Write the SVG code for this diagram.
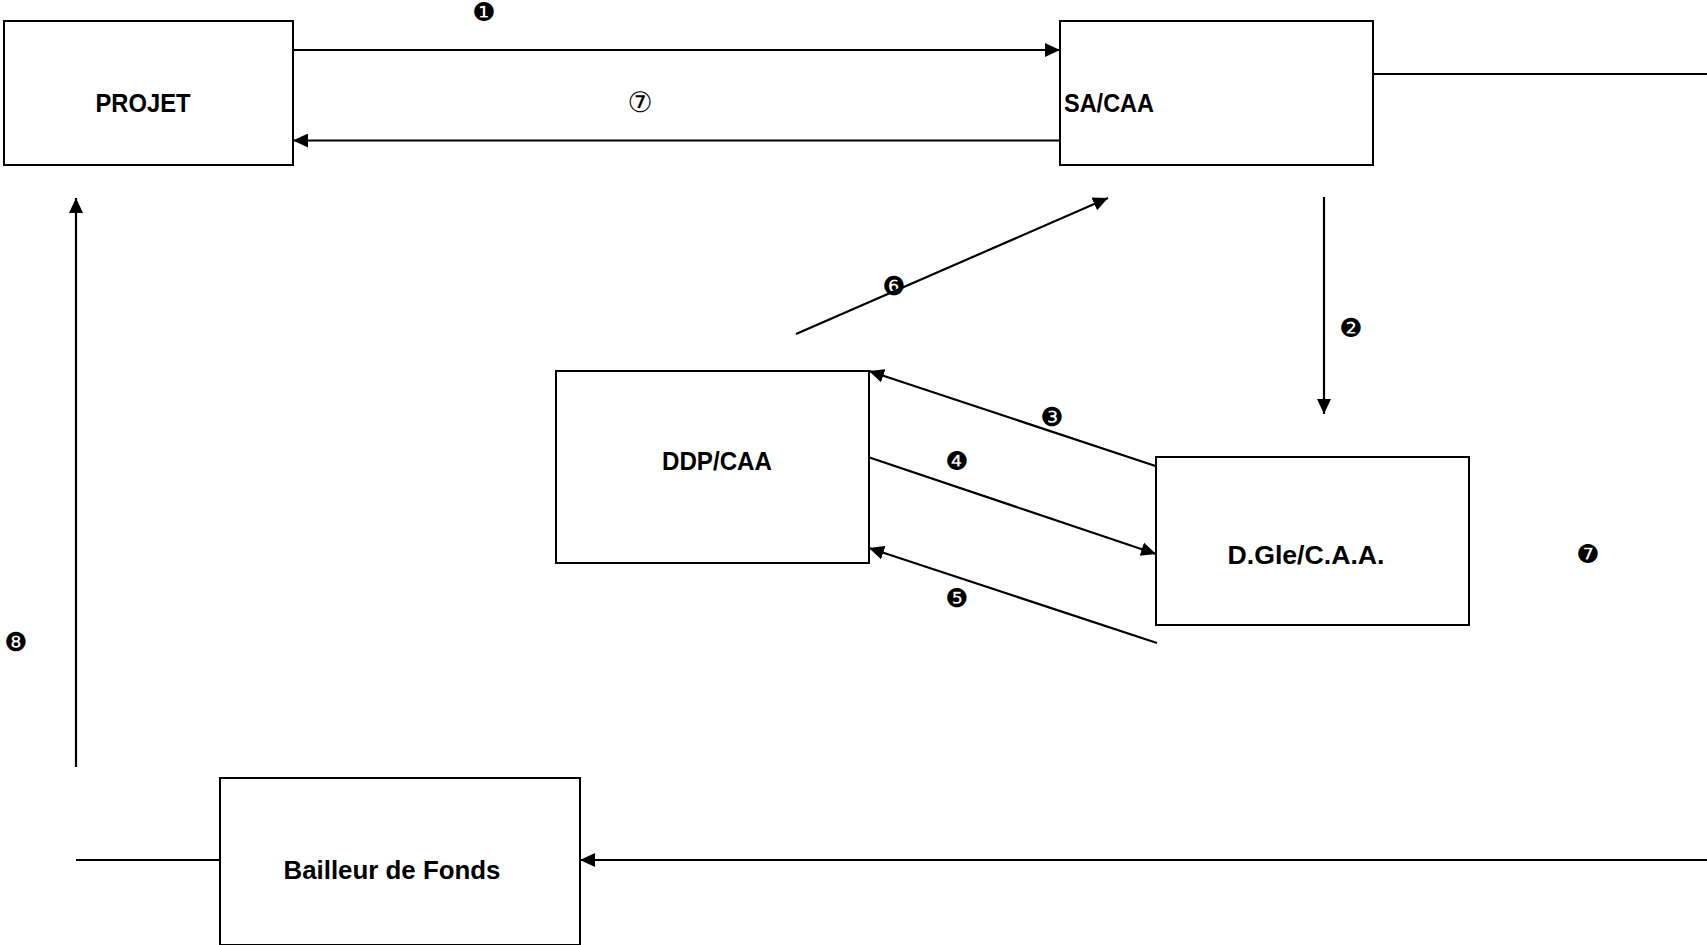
<svg xmlns="http://www.w3.org/2000/svg" width="1707" height="945" viewBox="0 0 1707 945">
<style>
.box{fill:#fff;stroke:#000;stroke-width:2}
.lbl{font-family:"Liberation Sans",Arial,sans-serif;font-weight:bold;font-size:26px;fill:#000}
.num{font-family:"DejaVu Sans","Noto Sans CJK JP",sans-serif;font-size:26px;fill:#000;text-anchor:middle;dominant-baseline:central}
.wnum{font-size:28px}
.ln{stroke:#000;stroke-width:2.2;fill:none}
.arr{marker-end:url(#ah)}
</style>
<defs>
<marker id="ah" viewBox="0 0 15 14" refX="15" refY="7" markerWidth="15" markerHeight="14" markerUnits="userSpaceOnUse" orient="auto">
<path d="M0,0 L15,7 L0,14 Z" fill="#000"/>
</marker>
</defs>
<g id="connectors">
<line class="ln arr" x1="293" y1="50" x2="1060" y2="50"/>
<line class="ln arr" x1="1060" y1="140.5" x2="293" y2="140.5"/>
<line class="ln" x1="1373" y1="74" x2="1707" y2="74"/>
<line class="ln arr" x1="1707" y1="860" x2="580" y2="860"/>
<line class="ln" x1="76" y1="860" x2="220" y2="860"/>
<line class="ln arr" x1="76" y1="767" x2="76" y2="198"/>
<line class="ln arr" x1="1324" y1="197" x2="1324" y2="414"/>
<line class="ln arr" x1="796" y1="334" x2="1108" y2="198"/>
<line class="ln arr" x1="1157" y1="466.5" x2="869" y2="371"/>
<line class="ln arr" x1="868" y1="457" x2="1156" y2="554"/>
<line class="ln arr" x1="1157" y1="643" x2="869" y2="548"/>
</g>
<g id="labels">
<text class="num" x="484" y="12">❶</text>
<text class="num wnum" x="640" y="102">⑦</text>
<text class="num" x="1351" y="328">❷</text>
<text class="num" x="1052" y="417">❸</text>
<text class="num" x="957" y="461">❹</text>
<text class="num" x="957" y="598">❺</text>
<text class="num" x="894" y="286">❻</text>
<text class="num" x="1588" y="554">❼</text>
<text class="num" x="16" y="642">❽</text>
</g>
<g id="projet">
<rect class="box" x="4" y="21" width="289" height="144"/>
<text class="lbl" x="143" y="112" text-anchor="middle" textLength="95" lengthAdjust="spacingAndGlyphs">PROJET</text>
</g>
<g id="sacaa">
<rect class="box" x="1060" y="21" width="313" height="144"/>
<text class="lbl" x="1064" y="112" textLength="90" lengthAdjust="spacingAndGlyphs">SA/CAA</text>
</g>
<g id="ddpcaa">
<rect class="box" x="556" y="371" width="313" height="192"/>
<text class="lbl" x="717" y="470" text-anchor="middle" textLength="110" lengthAdjust="spacingAndGlyphs">DDP/CAA</text>
</g>
<g id="dglecaa">
<rect class="box" x="1156" y="457" width="313" height="168"/>
<text class="lbl" x="1306" y="564" text-anchor="middle" textLength="157" lengthAdjust="spacingAndGlyphs">D.Gle/C.A.A.</text>
</g>
<g id="bailleur">
<rect class="box" x="220" y="778" width="360" height="167"/>
<text class="lbl" x="392" y="879" text-anchor="middle" textLength="217" lengthAdjust="spacingAndGlyphs">Bailleur de Fonds</text>
</g>
</svg>
